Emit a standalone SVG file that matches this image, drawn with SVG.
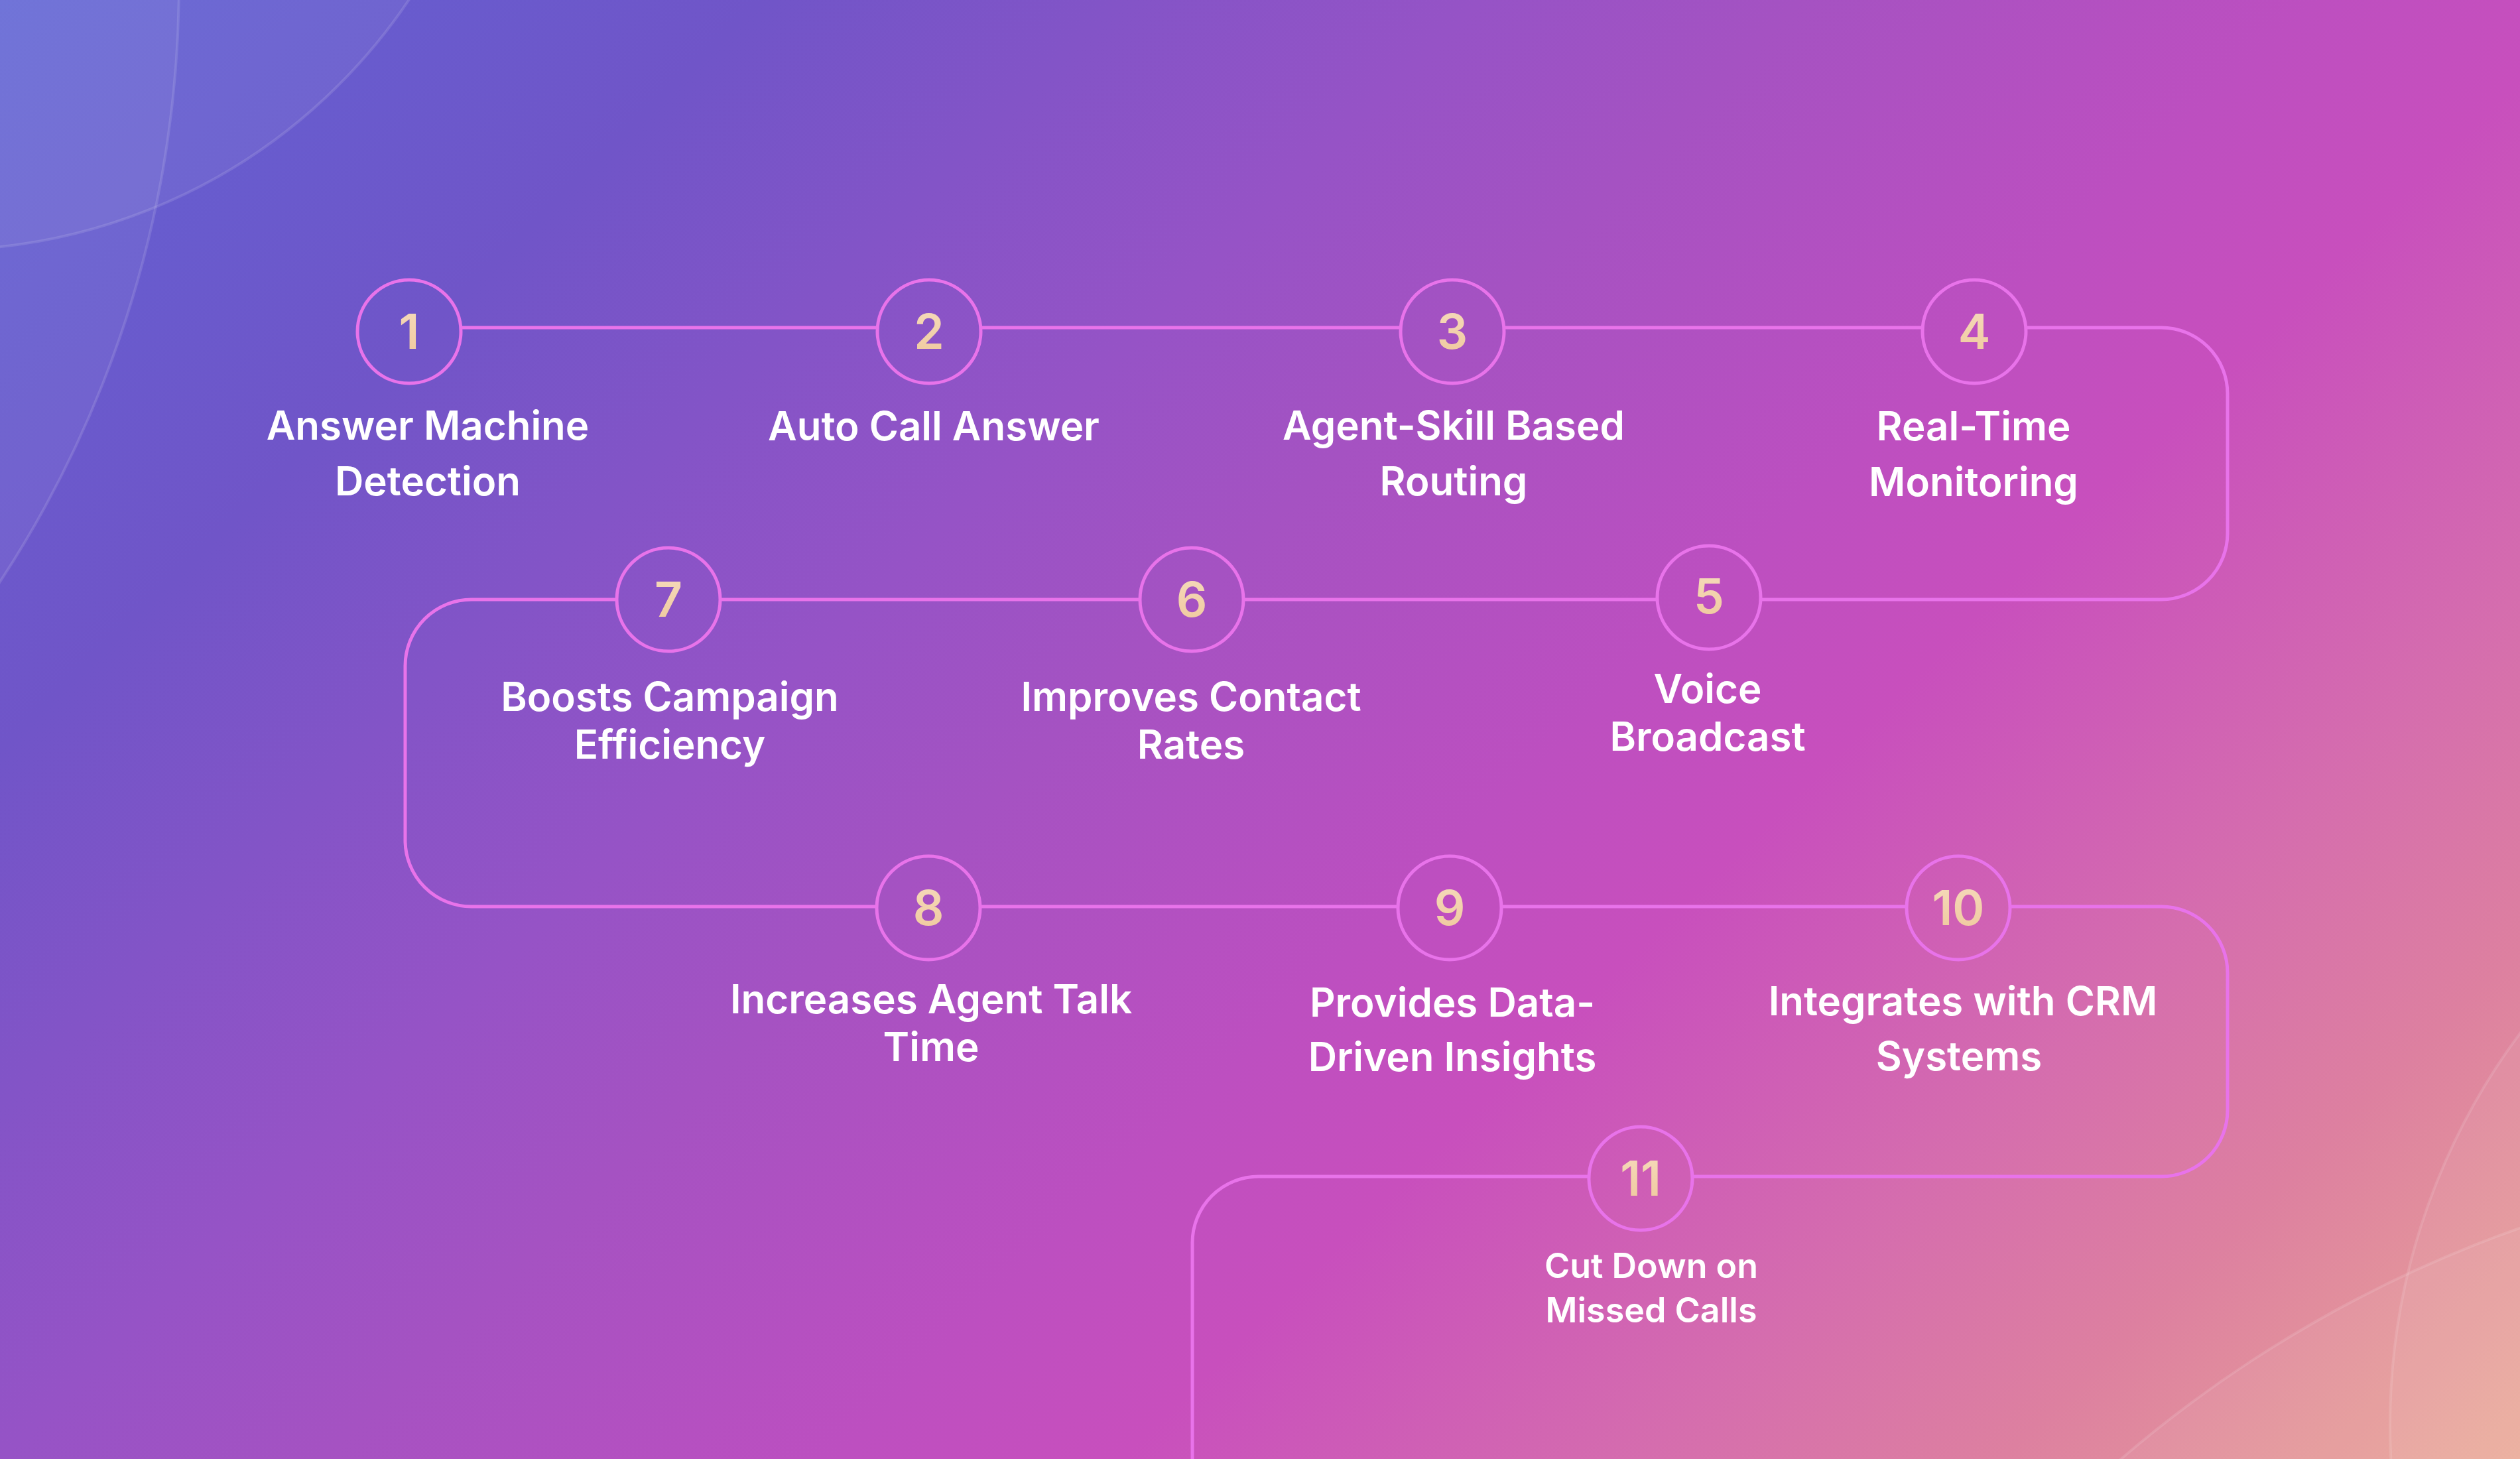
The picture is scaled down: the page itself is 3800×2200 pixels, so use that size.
<svg xmlns="http://www.w3.org/2000/svg" width="3800" height="2200" viewBox="0 0 3800 2200">
<defs>
<linearGradient id="bg" gradientUnits="userSpaceOnUse" x1="0" y1="0" x2="2973" y2="3016">
<stop offset="0" stop-color="#5f63d4"/>
<stop offset="0.19" stop-color="#7055c8"/>
<stop offset="0.37" stop-color="#9653c6"/>
<stop offset="0.45" stop-color="#a552c2"/>
<stop offset="0.58" stop-color="#bd4fc0"/>
<stop offset="0.65" stop-color="#c84fbd"/>
<stop offset="0.78" stop-color="#d56dae"/>
<stop offset="0.87" stop-color="#dd80a0"/>
<stop offset="1" stop-color="#eaa996"/>
</linearGradient>
<linearGradient id="num" x1="0" y1="0" x2="0" y2="1">
<stop offset="0" stop-color="#f6dbbd"/>
<stop offset="1" stop-color="#efc89c"/>
</linearGradient>
<style>
.deco{fill:#ffffff;fill-opacity:0.06;stroke:#ffffff;stroke-opacity:0.12;stroke-width:4}
.ring{fill:none;stroke:#e873ea;stroke-width:5}
.num{font-family:Inter,"Noto Sans",sans-serif;font-weight:600;font-size:73px;fill:url(#num);text-anchor:middle}
.lbl{font-family:Inter,"Noto Sans",sans-serif;font-weight:600;font-size:60px;fill:#ffffff;text-anchor:middle}
.sm{font-size:52px}
.conn{fill:none;stroke:#e873ea;stroke-width:5}
</style>
</defs>
<rect x="0" y="0" width="3800" height="2200" fill="url(#bg)"/>
<g id="decor">
<circle class="deco" cx="-1376" cy="-26" r="1646"/>
<circle class="deco" cx="-91" cy="-475" r="852"/>
<circle class="deco" cx="4592" cy="2149" r="988"/>
<circle class="deco" cx="4428" cy="3630" r="1886"/>
</g>
<g id="connectors">
<path class="conn" d="M 697 494 H 1321"/>
<path class="conn" d="M 1481 494 H 2110"/>
<path class="conn" d="M 2270 494 H 2897"/>
<path class="conn" d="M 3057 494 H 3259 A 100 100 0 0 1 3359 594 V 804 A 100 100 0 0 1 3259 904 H 2657"/>
<path class="conn" d="M 2497 904 H 1877"/>
<path class="conn" d="M 1717 904 H 1088"/>
<path class="conn" d="M 928 904 H 711 A 100 100 0 0 0 611 1004 V 1267 A 100 100 0 0 0 711 1367 H 1320"/>
<path class="conn" d="M 1480 1367 H 2106"/>
<path class="conn" d="M 2266 1367 H 2873"/>
<path class="conn" d="M 3033 1367 H 3259 A 100 100 0 0 1 3359 1467 V 1674 A 100 100 0 0 1 3259 1774 H 2554"/>
<path class="conn" d="M 2394 1774 H 1898 A 100 100 0 0 0 1798 1874 V 2200"/>
</g>
<g id="node1">
<circle class="ring" cx="617" cy="500" r="78"/>
<text class="num" x="617" y="526">1</text>
<text class="lbl" x="645" y="663">Answer Machine</text>
<text class="lbl" x="645" y="747">Detection</text>
</g>
<g id="node2">
<circle class="ring" cx="1401" cy="500" r="78"/>
<text class="num" x="1401" y="526">2</text>
<text class="lbl" x="1408" y="664">Auto Call Answer</text>
</g>
<g id="node3">
<circle class="ring" cx="2190" cy="500" r="78"/>
<text class="num" x="2190" y="526">3</text>
<text class="lbl" x="2192" y="663">Agent-Skill Based</text>
<text class="lbl" x="2192" y="747">Routing</text>
</g>
<g id="node4">
<circle class="ring" cx="2977" cy="500" r="78"/>
<text class="num" x="2977" y="526">4</text>
<text class="lbl" x="2976" y="664">Real-Time</text>
<text class="lbl" x="2976" y="748">Monitoring</text>
</g>
<g id="node5">
<circle class="ring" cx="2577" cy="901" r="78"/>
<text class="num" x="2577" y="925">5</text>
<text class="lbl" x="2575" y="1060">Voice</text>
<text class="lbl" x="2575" y="1132">Broadcast</text>
</g>
<g id="node6">
<circle class="ring" cx="1797" cy="904" r="78"/>
<text class="num" x="1797" y="930">6</text>
<text class="lbl" x="1796" y="1072">Improves Contact</text>
<text class="lbl" x="1796" y="1144">Rates</text>
</g>
<g id="node7">
<circle class="ring" cx="1008" cy="904" r="78"/>
<text class="num" x="1008" y="930">7</text>
<text class="lbl" x="1010" y="1072">Boosts Campaign</text>
<text class="lbl" x="1010" y="1144">Efficiency</text>
</g>
<g id="node8">
<circle class="ring" cx="1400" cy="1369" r="78"/>
<text class="num" x="1400" y="1395">8</text>
<text class="lbl" x="1404" y="1528">Increases Agent Talk</text>
<text class="lbl" x="1404" y="1600">Time</text>
</g>
<g id="node9">
<circle class="ring" cx="2186" cy="1369" r="78"/>
<text class="num" x="2186" y="1395">9</text>
<text class="lbl" x="2190" y="1533">Provides Data-</text>
<text class="lbl" x="2190" y="1615">Driven Insights</text>
</g>
<g id="node10">
<circle class="ring" cx="2953" cy="1369" r="78"/>
<text class="num" x="2953" y="1395">10</text>
<text class="lbl" x="2960" y="1531">Integrates with CRM</text>
<text class="lbl" x="2954" y="1614">Systems</text>
</g>
<g id="node11">
<circle class="ring" cx="2474" cy="1777" r="78"/>
<text class="num" x="2474" y="1803">11</text>
<text class="lbl sm" x="2490" y="1927">Cut Down on</text>
<text class="lbl sm" x="2490" y="1994">Missed Calls</text>
</g>
</svg>
